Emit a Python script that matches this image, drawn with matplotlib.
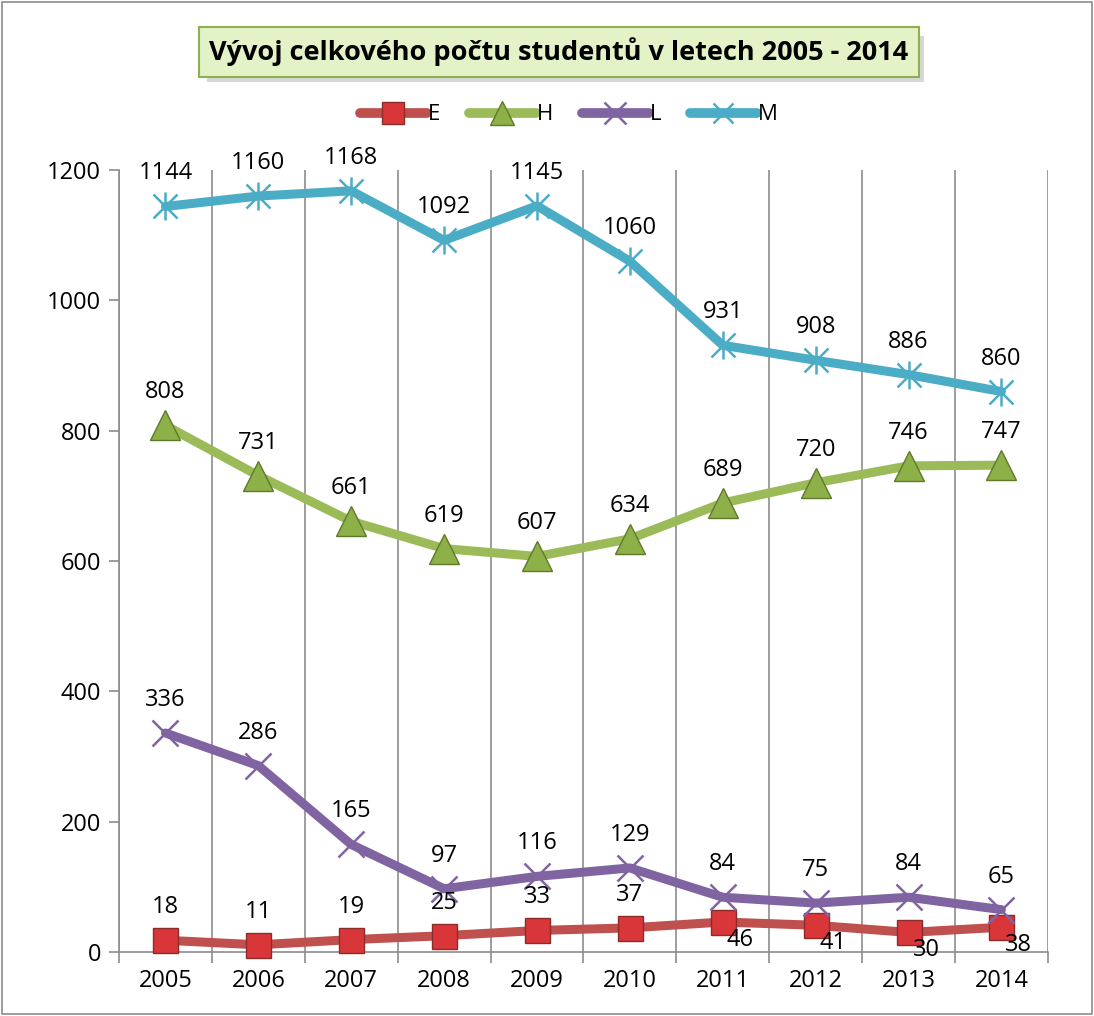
import matplotlib.pyplot as plt
from matplotlib.patches import Rectangle
from matplotlib.lines import Line2D

plt.rcParams['font.family'] = ['Open Sans', 'DejaVu Sans']

years = ['2005', '2006', '2007', '2008', '2009', '2010', '2011', '2012', '2013', '2014']
E = [18, 11, 19, 25, 33, 37, 46, 41, 30, 38]
H = [808, 731, 661, 619, 607, 634, 689, 720, 746, 747]
L = [336, 286, 165, 97, 116, 129, 84, 75, 84, 65]
M = [1144, 1160, 1168, 1092, 1145, 1060, 931, 908, 886, 860]

# label under-right for E from 2011 on (as in the original)
E_below = [False] * 6 + [True] * 4

fig = plt.figure(figsize=(10.94, 10.16), dpi=100)
fig.patch.set_facecolor('white')
# outer chart frame
fig.add_artist(Rectangle((0.002, 0.002), 0.996, 0.996, transform=fig.transFigure,
                         fill=False, edgecolor='#8c8c8c', lw=1.2))

ax = fig.add_axes([0.1088, 0.063, 0.849, 0.7697])
x = list(range(len(years)))

# name, values, line colour, marker layers [(marker, size, face, edge, edgewidth)]
series = [
    ('E', E, '#C0504D', [('s', 18, '#D9363A', '#8B2C2A', 1.0)]),
    ('H', H, '#9BBB59', [('^', 21, '#8DB048', '#5E7A2A', 1.0)]),
    ('L', L, '#8064A2', [('x', 19, '#8064A2', '#8064A2', 1.8)]),
    ('M', M, '#4BACC6', [('x', 17, '#4BACC6', '#4BACC6', 1.8),
                         ('|', 20, '#4BACC6', '#4BACC6', 1.8)]),
]
handles = []
for name, vals, col, layers in series:
    ax.plot(x, vals, color=col, lw=6.5, solid_capstyle='round', zorder=3,
            clip_on=False)
    for mk, ms, mfc, mec, mew in layers:
        ax.plot(x, vals, ls='none', marker=mk, ms=ms, mfc=mfc, mec=mec, mew=mew,
                zorder=4, clip_on=False)
    mk, ms, mfc, mec, mew = layers[0]
    handles.append(Line2D([0], [0], color=col, lw=7, solid_capstyle='round',
                          marker=mk, ms=ms * 0.85, mfc=mfc, mec=mec, mew=mew))

lbl = dict(fontsize=17, color='black', zorder=6)
for i in x:
    for vals in (M, H, L):
        ax.annotate(str(vals[i]), (i, vals[i]), xytext=(0, 21),
                    textcoords='offset pixels', ha='center', va='bottom', **lbl)
    if E_below[i]:
        ax.annotate(str(E[i]), (i, E[i]), xytext=(4, -6), textcoords='offset pixels',
                    ha='left', va='top', **lbl)
    else:
        ax.annotate(str(E[i]), (i, E[i]), xytext=(0, 21), textcoords='offset pixels',
                    ha='center', va='bottom', **lbl)

ax.set_xlim(-0.5, len(years) - 0.5)
ax.set_ylim(0, 1200)
ax.set_yticks(range(0, 1201, 200))
ax.set_xticks(x)
ax.set_xticklabels(years)
ax.set_xticks([i - 0.5 for i in range(len(years) + 1)], minor=True)
ax.grid(True, axis='x', which='minor', color='#8c8c8c', lw=1.2)
ax.tick_params(axis='x', which='major', length=0, labelsize=17, pad=12)
ax.tick_params(axis='x', which='minor', length=8, color='#8c8c8c', width=1.2)
ax.tick_params(axis='y', length=7, color='#8c8c8c', width=1.2, labelsize=17, pad=6)
for s in ['top', 'right']:
    ax.spines[s].set_visible(False)
for s in ['left', 'bottom']:
    ax.spines[s].set_color('#8c8c8c')
    ax.spines[s].set_linewidth(1.2)

fig.legend(handles, ['E', 'H', 'L', 'M'], loc='center', bbox_to_anchor=(0.52, 0.887),
           ncol=4, frameon=False, fontsize=16, handlelength=3.0, handletextpad=0.05,
           columnspacing=1.3)

# title box with a soft drop shadow
fig.add_artist(Rectangle((0.189, 0.919), 0.656, 0.046, transform=fig.transFigure,
                         facecolor='#bdbdbd', edgecolor='none', alpha=0.6, zorder=1))
fig.text(0.511, 0.949, 'Vývoj celkového počtu studentů v letech 2005 - 2014',
         ha='center', va='center', fontsize=19.5, fontweight='bold', zorder=2,
         bbox=dict(boxstyle='square,pad=0.4', facecolor='#E4F2C8',
                   edgecolor='#8FB04E', lw=1.5))

fig.savefig('out.png', dpi=100)
